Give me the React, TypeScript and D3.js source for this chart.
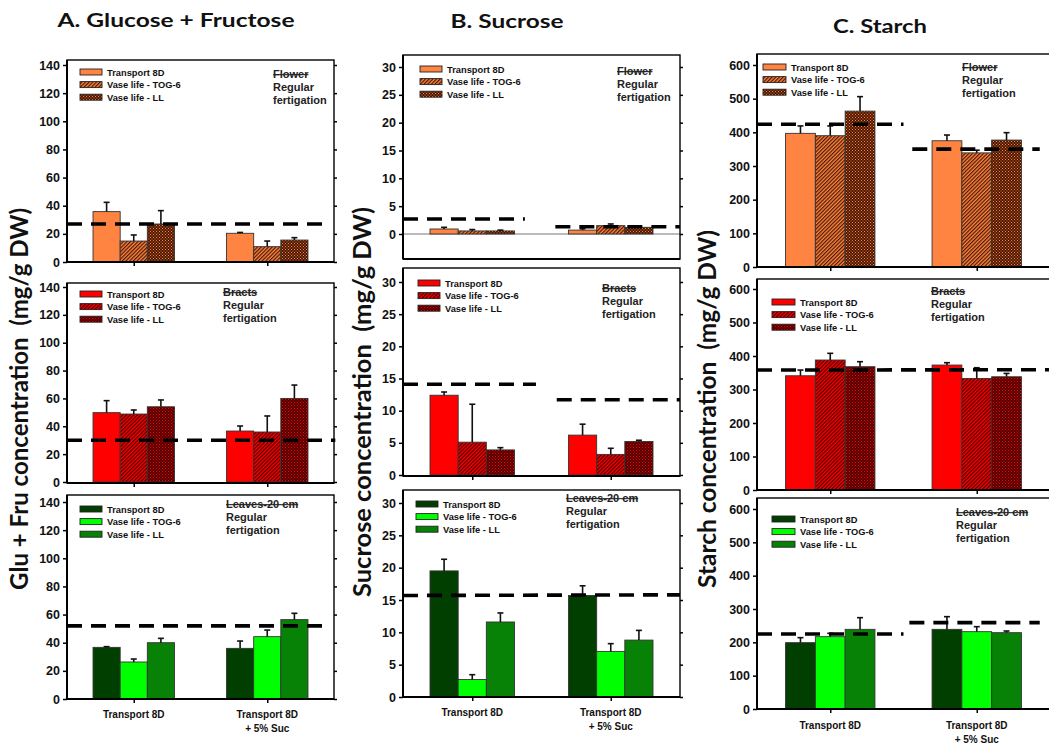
import React, { useEffect, useRef } from "react";
import * as d3 from "d3";

// ---- data ----
const categories = ["Transport 8D", "Transport 8D + 5% Suc"];
const categoryLines = [["Transport 8D"], ["Transport 8D", "+ 5% Suc"]];
const seriesNames = ["Transport 8D", "Vase life - TOG-6", "Vase life - LL"];
const tissueNames = ["Flower", "Bracts", "Leaves-20 cm"];
const noteLines = ["Regular", "fertigation"];
const columnTitles = ["A. Glucose + Fructose", "B. Sucrose", "C. Starch"];
const yTitles = [
  "Glu + Fru concentration  (mg/g DW)",
  "Sucrose concentration  (mg/g DW)",
  "Starch concentration  (mg/g DW)",
];

const gluFruTicks = [0, 20, 40, 60, 80, 100, 120, 140];
const sucroseTicks = [0, 5, 10, 15, 20, 25, 30];
const starchTicks = [0, 100, 200, 300, 400, 500, 600];

// means [category][series], SE [category][series], reference (dashed) [cat1, cat2]
const gluFruFlower = [[35.8, 14.9, 27], [20.4, 10.9, 15.6]];
const gluFruFlowerSE = [[6.6, 4.3, 9.5], [0.6, 4, 1.7]];
const gluFruBracts = [[49.8, 48.8, 54], [36.6, 35.9, 60]];
const gluFruBractsSE = [[8.6, 2.9, 4.9], [3.6, 11.5, 9.6]];
const gluFruLeaves = [[36.7, 26.3, 40], [36, 44.3, 56.4]];
const gluFruLeavesSE = [[0.5, 2.1, 3.1], [5.2, 4.7, 4.5]];
const gluFruRef = [[27, 27], [30, 30], [52, 52]];

const sucroseFlower = [[0.9, 0.55, 0.55], [0.7, 1.5, 1.2]];
const sucroseFlowerSE = [[0.3, 0.25, 0.15], [0.25, 0.3, 0.2]];
const sucroseBracts = [[12.4, 5.1, 3.9], [6.2, 3.2, 5.2]];
const sucroseBractsSE = [[0.5, 5.9, 0.35], [1.7, 0.95, 0.2]];
const sucroseLeaves = [[19.5, 2.7, 11.6], [15.7, 7.05, 8.8]];
const sucroseLeavesSE = [[1.8, 0.75, 1.4], [1.5, 1.2, 1.5]];
const sucroseRef = [[2.7, 1.3], [14.1, 11.7], [15.7, 15.8]];

const starchFlower = [[397, 390, 463], [375, 339, 377]];
const starchFlowerSE = [[22, 29, 43], [17, 8, 22]];
const starchBracts = [[341, 388, 368], [373, 333, 338]];
const starchBractsSE = [[17, 20, 15], [7, 32, 10]];
const starchLeaves = [[199, 217, 239], [239, 232, 229]];
const starchLeavesSE = [[15, 10, 35], [38, 15, 5]];
const starchRef = [[424, 350], [358, 359], [225, 259]];

const columnData = [
  { ticks: gluFruTicks, values: [gluFruFlower, gluFruBracts, gluFruLeaves], se: [gluFruFlowerSE, gluFruBractsSE, gluFruLeavesSE], ref: gluFruRef },
  { ticks: sucroseTicks, values: [sucroseFlower, sucroseBracts, sucroseLeaves], se: [sucroseFlowerSE, sucroseBractsSE, sucroseLeavesSE], ref: sucroseRef },
  { ticks: starchTicks, values: [starchFlower, starchBracts, starchLeaves], se: [starchFlowerSE, starchBractsSE, starchLeavesSE], ref: starchRef },
];

// ---- layout / style ----
const layout = [
  {
    left: 67, right: 334, titleX: 176, titleY: 27, titleLen: 237,
    yTitleX: 28, yTitleY: 399, yTitleLen: 382, labelDy: 19, patchW: 22,
    rows: [
      { top: 60, bottom: 262, zero: 262, tickTop: 65, legend: [80, 72], note: [273, 78], split: false, span: [0, 0.98] },
      { top: 283, bottom: 483, zero: 482, tickTop: 287, legend: [80, 294], note: [223, 296], split: false, span: [0, 1.005] },
      { top: 495, bottom: 699, zero: 699, tickTop: 502, legend: [80, 509], note: [226, 508], split: false, span: [0, 0.985] },
    ],
  },
  {
    left: 403, right: 680, titleX: 507, titleY: 28, titleLen: 113,
    yTitleX: 371, yTitleY: 402, yTitleLen: 390, labelDy: 19, patchW: 22,
    rows: [
      { top: 55, bottom: 259, zero: 234, tickTop: 67, legend: [420, 69], note: [617, 75], split: true, span: [0, 0.44, 0.55, 1] },
      { top: 268, bottom: 476, zero: 475, tickTop: 282, legend: [418, 283], note: [602, 292], split: true, span: [0, 0.48, 0.555, 1] },
      { top: 490, bottom: 697, zero: 697, tickTop: 503, legend: [416, 504], note: [566, 502], split: false, span: [0, 1] },
    ],
  },
  {
    left: 757, right: 1050, titleX: 880, titleY: 33, titleLen: 94,
    yTitleX: 716, yTitleY: 409, yTitleLen: 358, labelDy: 20, patchW: 23,
    rows: [
      { top: 54, bottom: 267, zero: 267, tickTop: 65, legend: [763, 67], note: [962, 71], split: true, span: [0, 0.5, 0.53, 0.965] },
      { top: 279, bottom: 490, zero: 490, tickTop: 289, legend: [772, 302], note: [931, 295], split: false, span: [0, 1] },
      { top: 498, bottom: 709, zero: 709, tickTop: 509, legend: [772, 519], note: [956, 516], split: true, span: [0, 0.5, 0.52, 0.965] },
    ],
  },
];

const palettes = [
  { base: "#FF8442", dark: "#4a1800" },
  { base: "#FF0000", dark: "#4a0000" },
];
const leafColors = ["#003F00", "#00FF00", "#078207"];
const fills = [
  ["#FF8442", "url(#hatch0)", "url(#dots0)"],
  ["#FF0000", "url(#hatch1)", "url(#dots1)"],
  leafColors,
];

const ARIAL = "'Liberation Sans', Arial, sans-serif";
const CALIBRI = "Lato, 'Open Sans', sans-serif";

function App() {
  const ref = useRef<SVGSVGElement>(null);

  useEffect(() => {
    const svg = d3.select(ref.current);
    svg.selectAll("*").remove();

    const defs = svg.append("defs");
    palettes.forEach((p, i) => {
      const h = defs.append("pattern").attr("id", `hatch${i}`).attr("patternUnits", "userSpaceOnUse")
        .attr("width", 2.6).attr("height", 2.6).attr("patternTransform", "rotate(45)");
      h.append("rect").attr("width", 2.6).attr("height", 2.6).attr("fill", p.base);
      h.append("line").attr("x1", 0.6).attr("x2", 0.6).attr("y1", 0).attr("y2", 2.6).attr("stroke", p.dark).attr("stroke-width", 1.2);

      const d = defs.append("pattern").attr("id", `dots${i}`).attr("patternUnits", "userSpaceOnUse")
        .attr("width", 3).attr("height", 3);
      d.append("rect").attr("width", 3).attr("height", 3).attr("fill", p.dark);
      d.append("rect").attr("width", 1).attr("height", 1).attr("fill", p.base);
      d.append("rect").attr("x", 1.5).attr("y", 1.5).attr("width", 1).attr("height", 1).attr("fill", p.base);
    });

    columnData.forEach((col, c) => {
      const L = layout[c];
      const g = svg.append("g");

      g.append("text").attr("x", L.titleX - L.titleLen / 2).attr("y", L.titleY)
        .attr("textLength", L.titleLen).attr("lengthAdjust", "spacingAndGlyphs")
        .attr("font-family", CALIBRI).attr("font-weight", 700).attr("font-size", 19).attr("fill", "#111")
        .text(columnTitles[c]);

      g.append("text")
        .attr("transform", `translate(${L.yTitleX},${L.yTitleY}) scale(1.22,1) rotate(-90)`)
        .attr("x", -L.yTitleLen / 2).attr("y", 0)
        .attr("textLength", L.yTitleLen).attr("lengthAdjust", "spacingAndGlyphs")
        .attr("font-family", CALIBRI).attr("font-weight", 700)
        .attr("font-size", 21).attr("fill", "#111").attr("xml:space", "preserve").text(yTitles[c]);

      const x0 = d3.scaleBand().domain(categories).range([L.left, L.right]).paddingInner(0.39).paddingOuter(0.195);
      const x1 = d3.scaleBand().domain(seriesNames).range([0, x0.bandwidth()]);
      const topTick = col.ticks[col.ticks.length - 1];

      L.rows.forEach((R, r) => {
        const y = d3.scaleLinear().domain([0, topTick]).range([R.zero, R.tickTop]);
        const p = g.append("g");
        const W = L.right - L.left;

        if (R.zero < R.bottom - 1) {
          p.append("line").attr("x1", L.left).attr("x2", L.right).attr("y1", R.zero).attr("y2", R.zero)
            .attr("stroke", "#777").attr("stroke-width", 1);
        }

        // bars
        const rows = col.values[r].flatMap((vals, ci) =>
          vals.map((v, si) => ({ cat: categories[ci], s: seriesNames[si], si, v, se: col.se[r][ci][si] }))
        );
        p.selectAll("rect.bar").data(rows).join("rect").attr("class", "bar")
          .attr("x", (d) => x0(d.cat)! + x1(d.s)!)
          .attr("y", (d) => y(d.v))
          .attr("width", x1.bandwidth())
          .attr("height", (d) => y(0) - y(d.v))
          .attr("fill", (d) => fills[r][d.si])
          .attr("stroke", "#333").attr("stroke-width", 0.9);

        // error bars (upper only)
        const eb = p.selectAll("g.err").data(rows).join("g").attr("class", "err")
          .attr("stroke", "#111").attr("stroke-width", 1.6);
        eb.append("line")
          .attr("x1", (d) => x0(d.cat)! + x1(d.s)! + x1.bandwidth() / 2)
          .attr("x2", (d) => x0(d.cat)! + x1(d.s)! + x1.bandwidth() / 2)
          .attr("y1", (d) => y(d.v)).attr("y2", (d) => y(d.v + d.se));
        eb.append("line")
          .attr("x1", (d) => x0(d.cat)! + x1(d.s)! + x1.bandwidth() / 2 - 3)
          .attr("x2", (d) => x0(d.cat)! + x1(d.s)! + x1.bandwidth() / 2 + 3)
          .attr("y1", (d) => y(d.v + d.se)).attr("y2", (d) => y(d.v + d.se));

        // reference dashed lines
        const rv = col.ref[r];
        const segs = R.split
          ? [
              { x1: R.span[0], x2: R.span[1], v1: rv[0], v2: rv[0] },
              { x1: R.span[2], x2: R.span[3], v1: rv[1], v2: rv[1] },
            ]
          : [{ x1: R.span[0], x2: R.span[1], v1: rv[0], v2: rv[1] }];
        p.selectAll("line.ref").data(segs).join("line").attr("class", "ref")
          .attr("x1", (d) => L.left + d.x1 * W).attr("x2", (d) => L.left + d.x2 * W)
          .attr("y1", (d) => y(d.v1)).attr("y2", (d) => y(d.v2))
          .attr("stroke", "#000").attr("stroke-width", 3.6).attr("stroke-dasharray", "15 9");

        // frame
        p.append("rect").attr("x", L.left).attr("y", R.top).attr("width", W).attr("height", R.bottom - R.top)
          .attr("fill", "none").attr("stroke", "#000").attr("stroke-width", 1.4);
        p.append("line").attr("x1", L.left).attr("x2", L.left).attr("y1", R.top).attr("y2", R.bottom)
          .attr("stroke", "#000").attr("stroke-width", 2);
        p.append("line").attr("x1", L.left).attr("x2", L.right).attr("y1", R.bottom).attr("y2", R.bottom)
          .attr("stroke", "#000").attr("stroke-width", 2);

        // axes
        const ax = p.append("g").attr("transform", `translate(${L.left},0)`)
          .call(d3.axisLeft(y).tickValues(col.ticks).tickSize(4).tickPadding(3).tickFormat(d3.format("d")));
        ax.select(".domain").remove();
        ax.selectAll("line").attr("stroke", "#000").attr("stroke-width", 1.5);
        ax.selectAll("text").attr("font-family", ARIAL).attr("font-weight", 700).attr("font-size", 12.5).attr("fill", "#111");

        const axr = p.append("g").attr("transform", `translate(${L.right},0)`)
          .call(d3.axisRight(y).tickValues(col.ticks).tickSize(3).tickFormat(() => ""));
        axr.select(".domain").remove();
        axr.selectAll("line").attr("stroke", "#000").attr("stroke-width", 1.5);

        if (R.zero >= R.bottom - 1) {
          const axb = p.append("g").attr("transform", `translate(0,${R.bottom})`)
            .call(d3.axisBottom(d3.scalePoint().domain(categories).range([L.left, L.right]).padding(0.5)).tickSize(4).tickFormat(() => ""));
          axb.select(".domain").remove();
          axb.selectAll("line").attr("stroke", "#000").attr("stroke-width", 1.5);
        }

        // legend
        const lg = p.append("g").attr("transform", `translate(${R.legend[0]},${R.legend[1]})`);
        seriesNames.forEach((s, si) => {
          lg.append("rect").attr("x", 0).attr("y", si * 12.6 - 3).attr("width", L.patchW).attr("height", 6)
            .attr("fill", fills[r][si]).attr("stroke", "#222").attr("stroke-width", 0.9);
          lg.append("text").attr("x", L.patchW + 5).attr("y", si * 12.6 + 3.5)
            .attr("font-family", ARIAL).attr("font-weight", 700).attr("font-size", 9.3).attr("fill", "#111").text(s);
        });

        // tissue note
        const nt = p.append("text").attr("x", R.note[0]).attr("y", R.note[1])
          .attr("font-family", ARIAL).attr("font-weight", 700).attr("font-size", 11).attr("fill", "#222");
        nt.append("tspan").attr("x", R.note[0]).attr("dy", 0).attr("text-decoration", "line-through").text(tissueNames[r]);
        noteLines.forEach((t) => nt.append("tspan").attr("x", R.note[0]).attr("dy", 13).text(t));

        // category labels on bottom row
        if (r === L.rows.length - 1) {
          categories.forEach((cat, ci) => {
            const cx = x0(cat)! + x0.bandwidth() / 2;
            categoryLines[ci].forEach((line, li) => {
              p.append("text").attr("x", cx).attr("y", R.bottom + L.labelDy + li * 14).attr("text-anchor", "middle")
                .attr("font-family", ARIAL).attr("font-weight", 700).attr("font-size", 10).attr("fill", "#111").text(line);
            });
          });
        }
      });
    });
  }, []);

  return (
    <div style={{ position: "absolute", left: 0, top: 0, width: 1049, height: 745, background: "#fff" }}>
      <svg ref={ref} width={1049} height={745} style={{ display: "block" }} />
    </div>
  );
}

export default App;
